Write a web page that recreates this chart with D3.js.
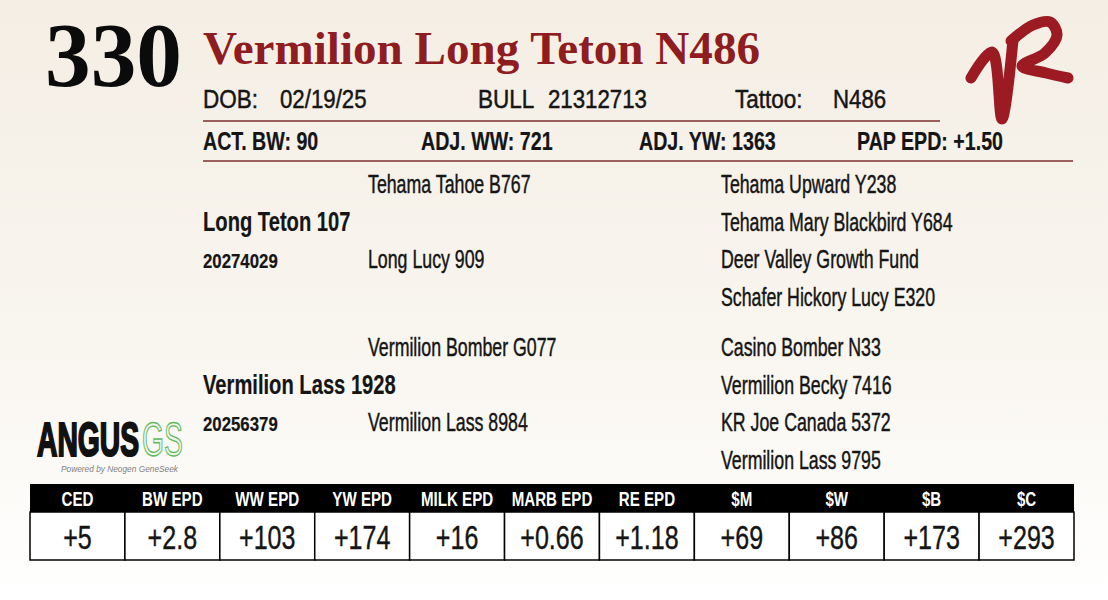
<!DOCTYPE html>
<html>
  <head>
    <title>Lot 330</title>
    <meta charset="utf-8">
    <style>
      body { margin: 0; background-color: #fff; }
      svg { display: block; }
      text { font-family: "Liberation Sans", Arial, sans-serif; }
      text.serif { font-family: "Liberation Serif", "Times New Roman", serif; }
    </style>
    <script src="https://cdnjs.cloudflare.com/ajax/libs/d3/7.8.5/d3.min.js"></script>
  </head>
  <body>
    <div id="card"></div>
    <script>
      var lotNumber = '330';
      var animalName = 'Vermilion Long Teton N486';
      var idLabels = ['DOB:', 'BULL', 'Tattoo:'];
      var idValues = ['02/19/25', '21312713', 'N486'];
      var perfLabels = ['ACT. BW:', 'ADJ. WW:', 'ADJ. YW:', 'PAP EPD:'];
      var perfValues = ['90', '721', '1363', '+1.50'];
      var parents = ['Long Teton 107', 'Vermilion Lass 1928'];
      var parentRegs = ['20274029', '20256379'];
      var grandparents = ['Tehama Tahoe B767', 'Long Lucy 909', 'Vermilion Bomber G077', 'Vermilion Lass 8984'];
      var greatGrandparents = ['Tehama Upward Y238', 'Tehama Mary Blackbird Y684', 'Deer Valley Growth Fund', 'Schafer Hickory Lucy E320',
                               'Casino Bomber N33', 'Vermilion Becky 7416', 'KR Joe Canada 5372', 'Vermilion Lass 9795'];
      var epdLabels = ['CED', 'BW EPD', 'WW EPD', 'YW EPD', 'MILK EPD', 'MARB EPD', 'RE EPD', '$M', '$W', '$B', '$C'];
      var epdValues = ['+5', '+2.8', '+103', '+174', '+16', '+0.66', '+1.18', '+69', '+86', '+173', '+293'];

      var W = 1108, H = 600;
      var red = '#8e1c21', rule = '#7c2f2a', ink = '#151515';

      var svg = d3.select('#card').append('svg').attr('width', W).attr('height', H);

      var grad = svg.append('defs').append('linearGradient').attr('id', 'bg')
        .attr('x1', 0).attr('y1', 0).attr('x2', 0).attr('y2', 1);
      grad.append('stop').attr('offset', '0%').attr('stop-color', '#f4eee4');
      grad.append('stop').attr('offset', '60%').attr('stop-color', '#f9f6f0');
      grad.append('stop').attr('offset', '100%').attr('stop-color', '#ffffff');
      svg.append('rect').attr('width', W).attr('height', H).attr('fill', 'url(#bg)');

      // squeeze a text horizontally to fake a condensed face
      function condense(sel, k) {
        sel.each(function() {
          var w = this.getComputedTextLength();
          d3.select(this).attr('textLength', w * k).attr('lengthAdjust', 'spacingAndGlyphs');
        });
        return sel;
      }

      function label(x, y, txt, size, weight, k) {
        var t = svg.append('text').attr('x', x).attr('y', y).text(txt)
          .attr('font-size', size).attr('font-weight', weight || 'normal')
          .attr('fill', ink).attr('stroke', ink).attr('stroke-width', weight == 'bold' ? 0.2 : 0.45);
        return condense(t, k || 0.72);
      }

      // lot number and name
      svg.append('text').attr('class', 'serif').attr('x', 45).attr('y', 86).text(lotNumber)
        .attr('font-weight', 'bold').attr('font-size', 92).attr('fill', '#0b0b0b')
        .attr('textLength', 137).attr('lengthAdjust', 'spacingAndGlyphs');
      svg.append('text').attr('class', 'serif').attr('x', 203).attr('y', 64).text(animalName)
        .attr('font-weight', 'bold').attr('font-size', 47).attr('fill', red)
        .attr('textLength', 557).attr('lengthAdjust', 'spacingAndGlyphs');

      // id row
      var idLabelX = [203, 478, 735], idValueX = [280, 548, 833];
      idLabels.forEach(function(d, i) {
        label(idLabelX[i], 108, d, 25, 'normal', 0.9);
        label(idValueX[i], 108, idValues[i], 25, 'normal', 0.89);
      });
      svg.append('line').attr('x1', 203).attr('x2', 940).attr('y1', 121).attr('y2', 121)
        .attr('stroke', rule).attr('stroke-width', 1.5);

      // performance row
      var perfX = d3.scaleLinear().domain([0, 1]).range([203, 421]);
      perfLabels.forEach(function(d, i) {
        label(perfX(i), 150, d + ' ' + perfValues[i], 25, 'bold', 0.785);
      });
      svg.append('line').attr('x1', 203).attr('x2', 1073).attr('y1', 161).attr('y2', 161)
        .attr('stroke', rule).attr('stroke-width', 1.5);

      // pedigree
      var blockY = d3.scaleLinear().domain([0, 1]).range([193, 356]);
      var rowStep = 37.5;
      function rowY(block, row) { return blockY(block) + row * rowStep; }

      parents.forEach(function(d, b) {
        label(203, rowY(b, 1), d, 28, 'bold', 0.72);
        label(203, rowY(b, 2), parentRegs[b], 21, 'bold', 0.8);
      });
      grandparents.forEach(function(d, i) {
        label(368, rowY(Math.floor(i / 2), (i % 2) * 2), d, 25, 'normal', 0.71);
      });
      greatGrandparents.forEach(function(d, i) {
        label(721, rowY(Math.floor(i / 4), i % 4), d, 25, 'normal', 0.71);
      });

      // breed association logo, one text squeezed as a whole
      var logo = svg.append('text').attr('font-size', 49);
      logo.append('tspan').text('ANGUS').attr('font-weight', 'bold')
        .attr('fill', '#111').attr('stroke', '#111').attr('stroke-width', 2.2);
      logo.append('tspan').text('GS').attr('dx', 5)
        .attr('fill', '#eef6ea').attr('stroke', '#62b85e').attr('stroke-width', 1.4);
      var logoW = logo.node().getComputedTextLength();
      logo.attr('transform', 'translate(37,456) scale(' + (143 / logoW) + ',1)');
      svg.append('text').attr('x', 61).attr('y', 472).text('Powered by Neogen GeneSeek')
        .attr('font-size', 8.5).attr('font-style', 'italic').attr('fill', '#808080')
        .attr('textLength', 117).attr('lengthAdjust', 'spacingAndGlyphs');

      // VR brand mark
      var brush = d3.line().curve(d3.curveCatmullRom.alpha(0.5));
      var brandV = [[971, 78], [992, 52], [1002, 119], [1013, 40]];
      var brandR = [[1011, 41], [1033, 25], [1050, 22], [1057, 35], [1045, 53], [1022, 66], [1046, 73], [1068, 78]];
      [brandV, brandR].forEach(function(p) {
        svg.append('path').attr('d', brush(p)).attr('fill', 'none')
          .attr('stroke', '#9c1b22').attr('stroke-width', 11)
          .attr('stroke-linecap', 'round').attr('stroke-linejoin', 'round');
      });

      // EPD table
      var x = d3.scaleBand().domain(epdLabels).range([30, 1074]);
      var headTop = 484, headBot = 512, rowBot = 560;
      var table = svg.append('g');
      table.append('rect').attr('x', x.range()[0]).attr('y', headTop)
        .attr('width', x.range()[1] - x.range()[0]).attr('height', headBot - headTop).attr('fill', '#000');
      table.selectAll('rect.cell').data(epdLabels).join('rect').attr('class', 'cell')
        .attr('x', function(d) { return x(d); }).attr('y', headBot)
        .attr('width', x.bandwidth()).attr('height', rowBot - headBot)
        .attr('fill', '#fff').attr('stroke', '#000').attr('stroke-width', 1.5);
      condense(table.selectAll('text.head').data(epdLabels).join('text').attr('class', 'head')
        .attr('x', function(d) { return x(d) + x.bandwidth() / 2; }).attr('y', 506)
        .attr('text-anchor', 'middle').attr('font-size', 21).attr('font-weight', 'bold').attr('fill', '#fff')
        .text(function(d) { return d; }), 0.72);
      condense(table.selectAll('text.val').data(epdValues).join('text').attr('class', 'val')
        .attr('x', function(d, i) { return x(epdLabels[i]) + x.bandwidth() / 2; }).attr('y', 549)
        .attr('text-anchor', 'middle').attr('font-size', 33).attr('fill', ink)
        .attr('stroke', ink).attr('stroke-width', 0.4)
        .text(function(d) { return d; }), 0.76);
    </script>
  </body>
</html>
